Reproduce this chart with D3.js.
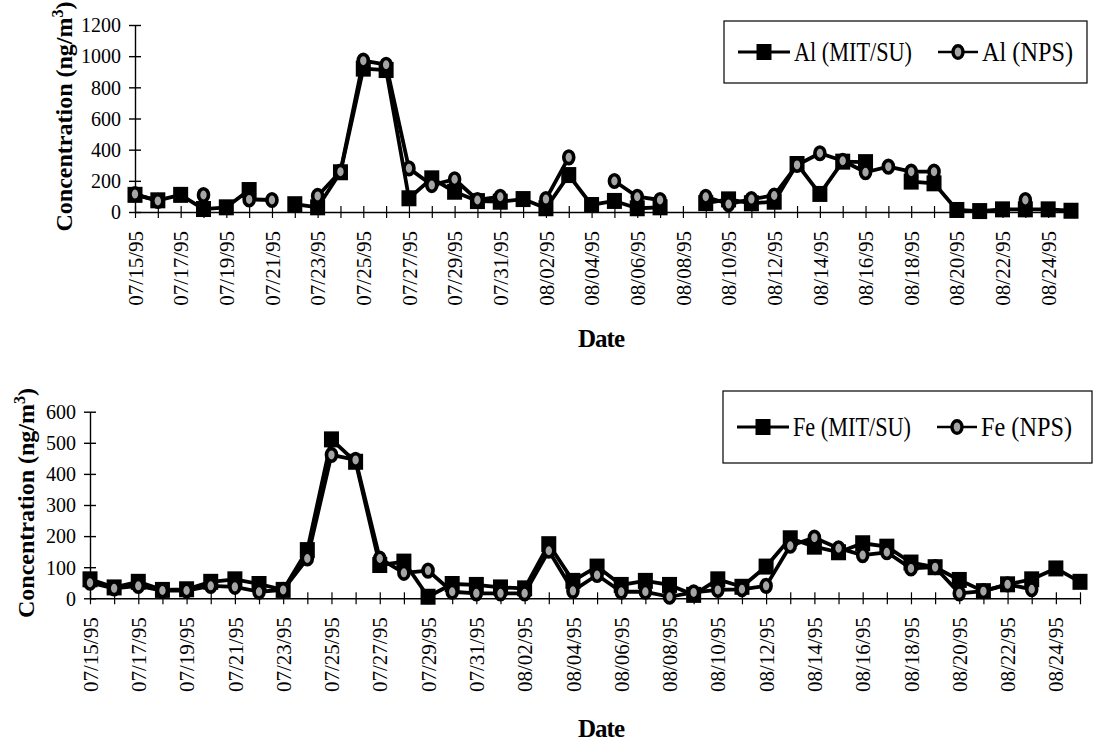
<!DOCTYPE html>
<html>
<head>
<meta charset="utf-8">
<script src="https://cdn.jsdelivr.net/npm/d3@7"></script>
<style>
  html, body { margin: 0; padding: 0; background: #fff; }
  svg { display: block; }
  text { font-family: "Liberation Serif", "Times New Roman", serif; fill: #000; }
</style>
</head>
<body>
<svg id="chart" width="1095" height="755"></svg>
<script>
// ---------------- data ----------------
const dates = ["07/15/95","07/16/95","07/17/95","07/18/95","07/19/95","07/20/95","07/21/95","07/22/95",
  "07/23/95","07/24/95","07/25/95","07/26/95","07/27/95","07/28/95","07/29/95","07/30/95","07/31/95",
  "08/01/95","08/02/95","08/03/95","08/04/95","08/05/95","08/06/95","08/07/95","08/08/95","08/09/95",
  "08/10/95","08/11/95","08/12/95","08/13/95","08/14/95","08/15/95","08/16/95","08/17/95","08/18/95",
  "08/19/95","08/20/95","08/21/95","08/22/95","08/23/95","08/24/95","08/25/95"];
const tickLabels = ["07/15/95","07/17/95","07/19/95","07/21/95","07/23/95","07/25/95","07/27/95","07/29/95",
  "07/31/95","08/02/95","08/04/95","08/06/95","08/08/95","08/10/95","08/12/95","08/14/95","08/16/95",
  "08/18/95","08/20/95","08/22/95","08/24/95"];

const alMIT = [110,75,110,19,30,141,null,50,30,255,920,911,88,216,130,70,66,83,24,237,45,71,24,30,null,57,
  81,56,66,308,116,323,320,null,195,184,13,6,17,17,17,8];
const alNPS = [115,71,null,109,null,81,77,null,103,259,971,945,280,173,210,77,98,null,83,351,null,199,98,77,null,98,
  51,83,106,302,377,329,255,291,259,259,null,null,null,77,null,null];
const feMIT = [61,35,53,27,29,53,61,46,27,155,511,439,107,118,5,46,43,35,32,174,56,102,43,56,43,11,
  61,37,102,193,166,148,177,166,115,100,59,23,45,61,96,53];
const feNPS = [50,32,40,25,25,40,37,21,27,128,461,445,128,82,89,21,16,16,16,153,24,75,21,21,5,19,
  27,29,40,169,195,161,139,148,96,100,16,23,45,29,null,null];

const alTicks = [0,200,400,600,800,1000,1200];
const feTicks = [0,100,200,300,400,500,600];

// ---------------- drawing ----------------
const svg = d3.select("#chart");

function panel(cfg) {
  const g = svg.append("g");
  const x = d3.scalePoint().domain(dates).range([cfg.x0, cfg.x1]).padding(0);
  const y = d3.scaleLinear().domain([0, cfg.ymax]).range([cfg.yb, cfg.yt]);

  // y axis
  const ya = g.append("g").attr("transform", `translate(${cfg.x0},0)`)
    .call(d3.axisLeft(y).tickValues(cfg.yTicks).tickSizeOuter(0).tickSizeInner(6).tickFormat(d3.format("d")));
  ya.select(".domain").attr("stroke", "#000").attr("stroke-width", 1.4);
  ya.selectAll(".tick line").attr("x1", -6).attr("x2", 6).attr("stroke", "#000").attr("stroke-width", 1.4);
  ya.selectAll(".tick text").attr("x", -14).attr("dy", "0.34em")
    .style("font-size", "20px").style("font-family", "Liberation Serif");

  // x axis
  const xa = g.append("g").attr("transform", `translate(0,${cfg.yb})`)
    .call(d3.axisBottom(x).tickValues(dates).tickSizeOuter(0).tickSizeInner(6)
      .tickFormat(d => tickLabels.includes(d) ? d : ""));
  xa.select(".domain").attr("stroke", "#000").attr("stroke-width", 1.4);
  xa.selectAll(".tick line").attr("y1", -6).attr("y2", 6).attr("stroke", "#000").attr("stroke-width", 1.2);
  xa.selectAll(".tick text")
    .attr("transform", "rotate(-90)")
    .attr("x", -19).attr("y", 0).attr("dy", "0.34em")
    .attr("text-anchor", "end")
    .style("font-size", "21px").style("font-family", "Liberation Serif");

  // series
  const line = d3.line().defined(d => d.v !== null).x(d => x(d.d)).y(d => y(d.v));
  function series(vals, kind) {
    const pts = vals.map((v, i) => ({ d: dates[i], v }));
    g.append("path").datum(pts).attr("d", line)
      .attr("fill", "none").attr("stroke", "#000").attr("stroke-width", 3.8).attr("stroke-linejoin", "round");
    const p = pts.filter(d => d.v !== null);
    if (kind === "square") {
      g.selectAll(null).data(p).enter().append("rect")
        .attr("x", d => x(d.d) - 7.5).attr("y", d => y(d.v) - 8)
        .attr("width", 15).attr("height", 16).attr("fill", "#000");
    } else {
      g.selectAll(null).data(p).enter().append("ellipse")
        .attr("cx", d => x(d.d)).attr("cy", d => y(d.v))
        .attr("rx", 5).attr("ry", 6.3)
        .attr("fill", "#a5a5a5").attr("stroke", "#000").attr("stroke-width", 3.6);
    }
  }
  series(cfg.mit, "square");
  series(cfg.nps, "circle");

  // y title
  const cy = (cfg.yb + cfg.yt) / 2 - 2;
  const yt = g.append("text")
    .attr("transform", `translate(${cfg.titleX},${cy}) rotate(-90)`)
    .attr("text-anchor", "middle")
    .style("font-size", "24px").style("font-weight", "bold");
  yt.append("tspan").text("Concentration (ng/m");
  yt.append("tspan").text("3").attr("dy", "-0.55em").style("font-size", "16px");
  yt.append("tspan").text(")").attr("dy", "0.37em");

  // x title
  g.append("text").attr("x", 601).attr("y", cfg.dateY).attr("text-anchor", "middle")
    .style("font-size", "25px").style("font-weight", "bold").style("letter-spacing", "-1px").text("Date");

  // legend
  const L = cfg.legend;
  g.append("rect").attr("x", L.x0).attr("y", L.y0).attr("width", L.x1 - L.x0).attr("height", L.y1 - L.y0)
    .attr("fill", "#fff").attr("stroke", "#000").attr("stroke-width", 1.2);
  const ly = (L.y0 + L.y1) / 2;
  g.append("line").attr("x1", L.x0 + 14).attr("x2", L.x0 + 66).attr("y1", ly).attr("y2", ly)
    .attr("stroke", "#000").attr("stroke-width", 3);
  g.append("rect").attr("x", L.x0 + 40 - 7.5).attr("y", ly - 8).attr("width", 15).attr("height", 16).attr("fill", "#000");
  g.append("text").attr("x", L.x0 + 70).attr("y", ly).attr("dy", "0.35em")
    .attr("textLength", 118).attr("lengthAdjust", "spacingAndGlyphs")
    .style("font-size", "27px").text(cfg.names[0]);
  g.append("line").attr("x1", L.x0 + 214).attr("x2", L.x0 + 254).attr("y1", ly).attr("y2", ly)
    .attr("stroke", "#000").attr("stroke-width", 2.4);
  g.append("ellipse").attr("cx", L.x0 + 234).attr("cy", ly).attr("rx", 5).attr("ry", 6.3)
    .attr("fill", "#a5a5a5").attr("stroke", "#000").attr("stroke-width", 3.4);
  g.append("text").attr("x", L.x0 + 258).attr("y", ly).attr("dy", "0.35em")
    .attr("textLength", 91).attr("lengthAdjust", "spacingAndGlyphs")
    .style("font-size", "27px").text(cfg.names[1]);
}

panel({
  x0: 135, x1: 1071, yb: 212, yt: 25, ymax: 1200, yTicks: alTicks,
  mit: alMIT, nps: alNPS, titleX: 72, dateY: 347,
  legend: { x0: 724, x1: 1087, y0: 21, y1: 83 },
  names: ["Al (MIT/SU)", "Al (NPS)"]
});
panel({
  x0: 90, x1: 1080, yb: 598.3, yt: 411.7, ymax: 600, yTicks: feTicks,
  mit: feMIT, nps: feNPS, titleX: 34, dateY: 737,
  legend: { x0: 723, x1: 1092, y0: 391, y1: 463 },
  names: ["Fe (MIT/SU)", "Fe (NPS)"]
});
</script>
</body>
</html>
